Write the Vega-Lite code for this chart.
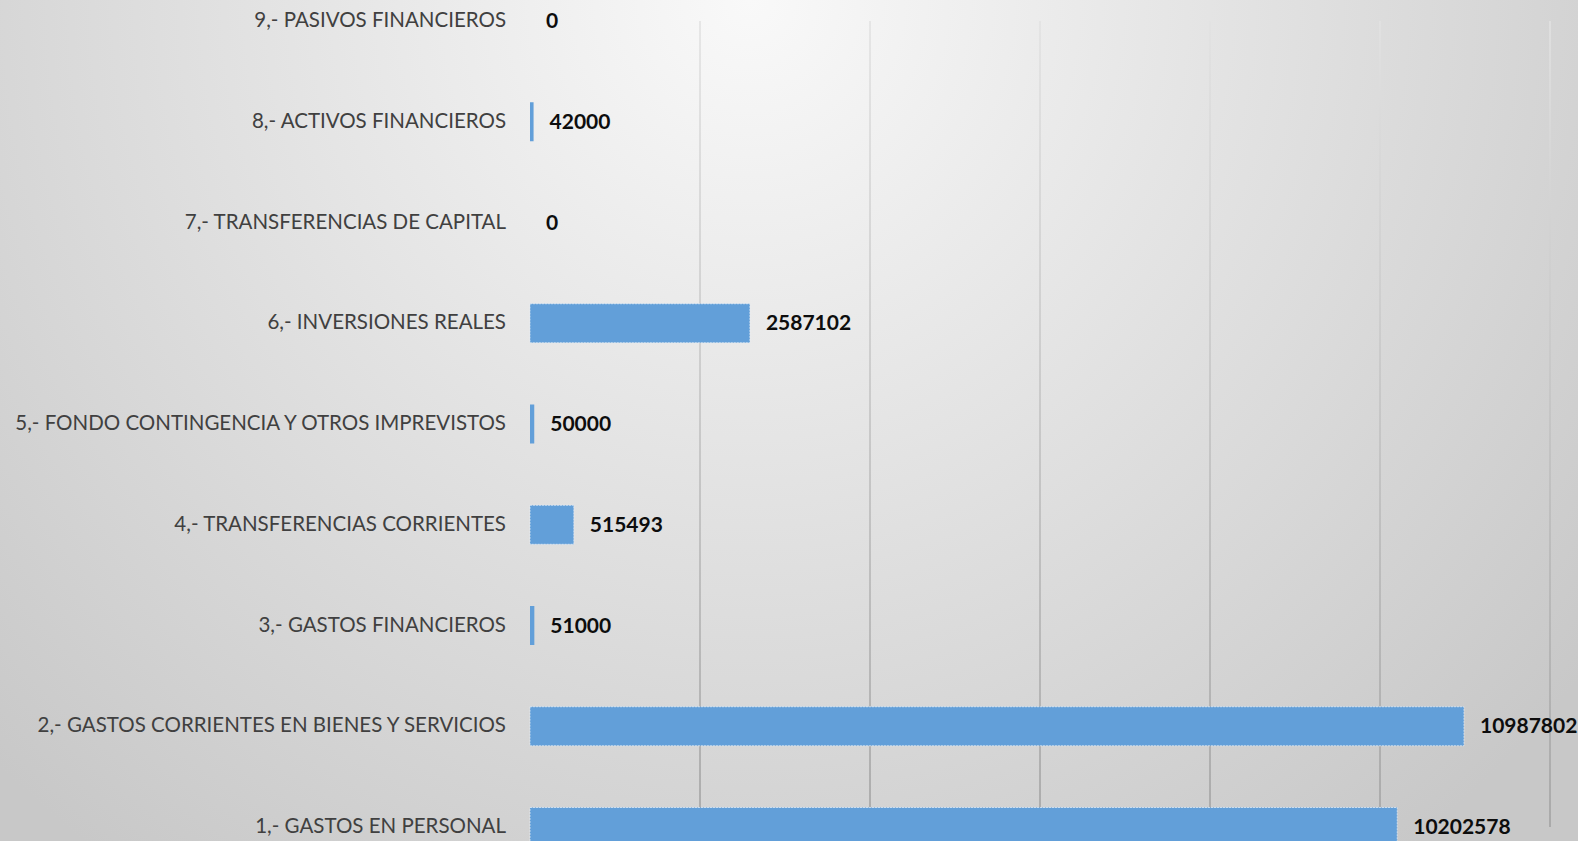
{
  "$schema": "https://vega.github.io/schema/vega-lite/v6.json",
  "width": 1578,
  "height": 841,
  "autosize": {"type": "none"},
  "padding": 0,
  "background": "#dcdcdc",
  "view": {
    "stroke": null,
    "fill": {
      "gradient": "radial",
      "x1": 0.475, "y1": 0.2335, "r1": 0,
      "x2": 0.475, "y2": 0.2335, "r2": 0.68,
      "stops": [
        {"offset": 0, "color": "#f9f9f9"},
        {"offset": 1, "color": "#c8c8c8"}
      ]
    }
  },
  "data": {
    "values": [
      {"cat": "9,- PASIVOS FINANCIEROS", "v": 0},
      {"cat": "8,- ACTIVOS FINANCIEROS", "v": 42000},
      {"cat": "7,- TRANSFERENCIAS DE CAPITAL", "v": 0},
      {"cat": "6,- INVERSIONES REALES", "v": 2587102},
      {"cat": "5,- FONDO CONTINGENCIA Y OTROS IMPREVISTOS", "v": 50000},
      {"cat": "4,- TRANSFERENCIAS CORRIENTES", "v": 515493},
      {"cat": "3,- GASTOS FINANCIEROS", "v": 51000},
      {"cat": "2,- GASTOS CORRIENTES EN BIENES Y SERVICIOS", "v": 10987802},
      {"cat": "1,- GASTOS EN PERSONAL", "v": 10202578}
    ]
  },
  "layer": [
    {
      "data": {"values": [{"g": 2000000}, {"g": 4000000}, {"g": 6000000}, {"g": 8000000}, {"g": 10000000}, {"g": 12000000}]},
      "mark": {
        "type": "bar",
        "orient": "vertical",
        "width": 1.6,
        "fill": {
          "gradient": "linear",
          "x1": 0, "y1": 0, "x2": 0, "y2": 1,
          "stops": [
            {"offset": 0, "color": "#e2e2e2"},
            {"offset": 1, "color": "#a2a2a2"}
          ]
        }
      },
      "encoding": {
        "x": {"field": "g", "type": "quantitative", "scale": {"domain": [-6235294, 12329412], "nice": false, "zero": false, "padding": 0}, "axis": null},
        "y": {"datum": "9,- PASIVOS FINANCIEROS", "type": "nominal", "scale": {"type": "point", "padding": 0, "range": [21, 827], "domain": ["9,- PASIVOS FINANCIEROS", "8,- ACTIVOS FINANCIEROS", "7,- TRANSFERENCIAS DE CAPITAL", "6,- INVERSIONES REALES", "5,- FONDO CONTINGENCIA Y OTROS IMPREVISTOS", "4,- TRANSFERENCIAS CORRIENTES", "3,- GASTOS FINANCIEROS", "2,- GASTOS CORRIENTES EN BIENES Y SERVICIOS", "1,- GASTOS EN PERSONAL"]}, "axis": null},
        "y2": {"datum": "1,- GASTOS EN PERSONAL"}
      }
    },
    {
      "mark": {"type": "bar", "height": 39, "fill": "#629fd9", "stroke": "#e4eef8", "strokeWidth": 1, "strokeDash": [2, 1]},
      "encoding": {
        "x": {"field": "v", "type": "quantitative"},
        "y": {"field": "cat", "type": "nominal"},
        "strokeOpacity": {"condition": {"test": "datum.v > 100000", "value": 0.7}, "value": 0}
      }
    },
    {
      "mark": {"type": "text", "align": "left", "baseline": "middle", "dx": 16, "dy": 1, "font": "Lato", "fontWeight": "bold", "fontSize": 21, "color": "#0d0d0d"},
      "encoding": {
        "x": {"field": "v", "type": "quantitative"},
        "y": {"field": "cat", "type": "nominal"},
        "text": {"field": "v", "type": "quantitative", "format": "d"}
      }
    },
    {
      "mark": {"type": "text", "align": "right", "baseline": "middle", "dx": -24, "font": "Lato", "fontSize": 20.5, "color": "#404040"},
      "encoding": {
        "x": {"datum": 0, "type": "quantitative"},
        "y": {"field": "cat", "type": "nominal"},
        "text": {"field": "cat", "type": "nominal"}
      }
    }
  ]
}
